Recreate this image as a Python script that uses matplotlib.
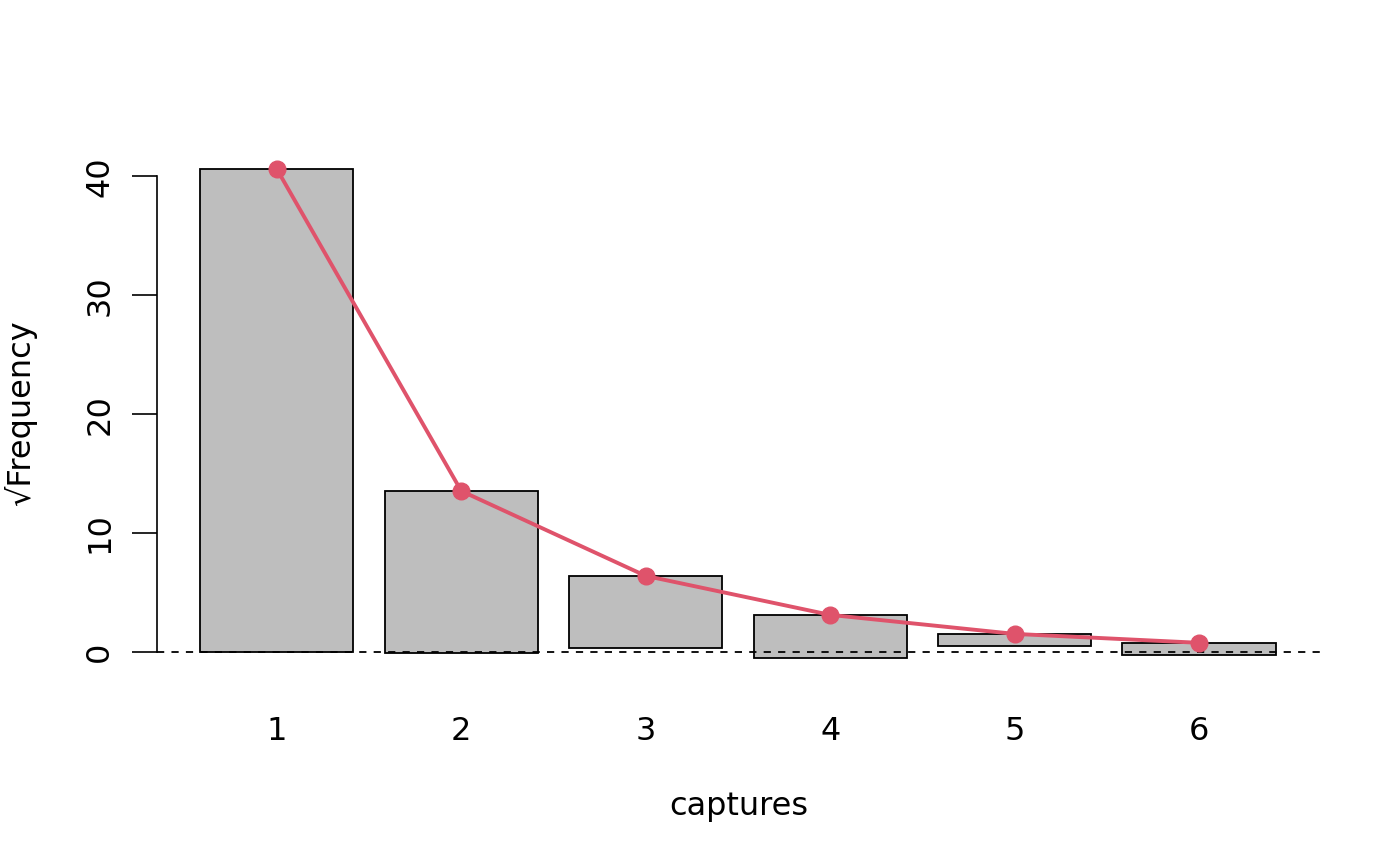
import numpy as np
from matplotlib import pyplot as plt

captures = [1, 2, 3, 4, 5, 6]
# square-root scale: expected (line) and observed (hanging bars)
sqrt_expected = [40.6, 13.53, 6.39, 3.11, 1.51, 0.76]
sqrt_observed = [40.6, 13.6, 6.08, 3.64, 0.99, 1.01]

bottoms = np.array(sqrt_expected) - np.array(sqrt_observed)

fig = plt.figure(figsize=(14, 8.66), dpi=100)
ax = fig.add_axes([157/1400, 1 - 678/866, (1320 - 157)/1400, (678 - 149)/866])

ax.bar(captures, sqrt_observed, bottom=bottoms, width=0.83,
       color='#BEBEBE', edgecolor='black', linewidth=1.3, zorder=2)
ax.axhline(0, color='black', linestyle=(0, (4, 4)), linewidth=1.3, zorder=3)
ax.plot(captures, sqrt_expected, '-o', color='#DF536B', linewidth=2.8,
        markersize=12, zorder=4)

ax.set_xlim(0.35, 6.656)
ax.set_ylim(-2.2, 42.3)

for s in ['top', 'right', 'bottom']:
    ax.spines[s].set_visible(False)
ax.spines['left'].set_bounds(0, 40)
ax.spines['left'].set_linewidth(1.2)

fs = 23
ax.set_yticks([0, 10, 20, 30, 40])
ax.set_yticklabels(['0', '10', '20', '30', '40'], rotation=90, va='center')
ax.tick_params(axis='y', length=18, width=1.2, labelsize=fs, pad=12)
ax.set_xticks(captures)
ax.tick_params(axis='x', length=0, labelsize=fs, pad=27)

ax.set_xlabel('captures', fontsize=fs, labelpad=32)
ax.set_ylabel('\u221aFrequency', fontsize=fs, labelpad=34)

plt.savefig('out.png')
